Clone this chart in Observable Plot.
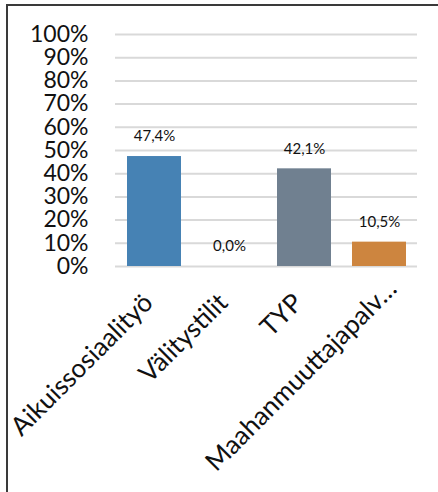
<!DOCTYPE html>
<html><head><meta charset="utf-8">
<script src="https://cdn.jsdelivr.net/npm/d3@7"></script>
<script src="https://cdn.jsdelivr.net/npm/@observablehq/plot@0.6"></script>
<style>
body{margin:0;background:#fff;}
#wrap{position:relative;width:438px;height:492px;overflow:hidden;}
#border{position:absolute;left:6px;top:4px;width:440px;height:500px;border-top:2px solid #3a3a3a;border-left:2px solid #3a3a3a;pointer-events:none;}
#wrap svg{position:absolute;left:0;top:0;}
</style></head><body><div id="wrap"><div id="border"></div></div>
<script>
const categories = ["Aikuissosiaalityö", "Välitystilit", "TYP", "Maahanmuuttajapalv…"];
const values = [0.474, 0.0, 0.421, 0.105];
const valueLabels = ["47,4%", "0,0%", "42,1%", "10,5%"];
const barColors = ["#4682b4", "#a9a9a9", "#708090", "#cd853f"];
const yTicks = [0, 0.1, 0.2, 0.3, 0.4, 0.5, 0.6, 0.7, 0.8, 0.9, 1];
const yTickLabels = ["0%", "10%", "20%", "30%", "40%", "50%", "60%", "70%", "80%", "90%", "100%"];

const data = categories.map((c, i) => ({category: c, value: values[i], label: valueLabels[i], color: barColors[i]}));

const catStyle = {tickSize: 0, tickRotate: -45, fontSize: 26, label: null};

const chart = Plot.plot({
  width: 438, height: 492,
  marginLeft: 115, marginRight: 21, marginTop: 34, marginBottom: 226,
  style: {fontFamily: "Lato, 'Open Sans', sans-serif", background: "transparent", color: "#111"},
  x: {domain: categories, paddingInner: 0.283, paddingOuter: 0.1415, label: null},
  y: {domain: [0, 1], label: null},
  color: {type: "identity"},
  marks: [
    Plot.gridY(yTicks, {stroke: "#d9d9d9", strokeWidth: 2, strokeOpacity: 1}),
    Plot.axisY(yTicks, {tickSize: 0, tickPadding: 27, fontSize: 23, tickFormat: d => yTickLabels[yTicks.indexOf(d)], label: null}),
    Plot.barY(data, {x: "category", y: "value", fill: "color"}),
    Plot.text(data, {x: "category", y: "value", text: "label", dy: -20, fontSize: 15, lineAnchor: "middle", fill: "#111"}),
    Plot.axisX(categories.slice(0, 3), {...catStyle, tickPadding: 32, dx: -6}),
    Plot.axisX(categories.slice(3), {...catStyle, tickPadding: 18, dx: 13})
  ]
});
document.getElementById("wrap").appendChild(chart);
</script>
</body></html>
